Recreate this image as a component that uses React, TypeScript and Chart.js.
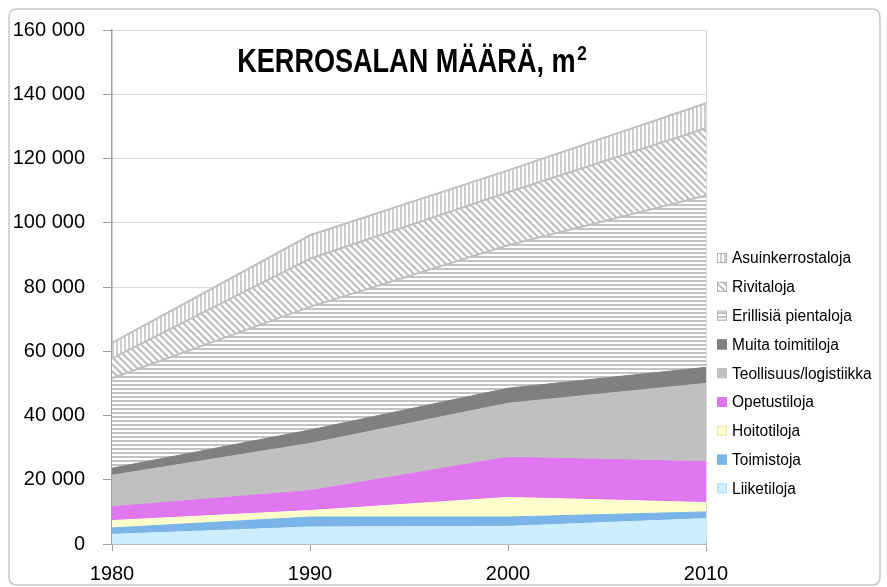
import React, { useEffect, useRef } from "react";
import { Chart, registerables } from "chart.js";

Chart.register(...registerables);

// ---- data ----
const years = ["1980", "1990", "2000", "2010"];
const liiketiloja = [3000, 5300, 5500, 7900];
const toimistoja = [2000, 3100, 2900, 2100];
const hoitotiloja = [2300, 2000, 6100, 2900];
const opetustiloja = [4300, 6200, 12500, 12700];
const teollisuus = [9800, 14700, 16800, 24400];
const muitaToimitiloja = [2200, 4200, 4700, 5000];
const erillisiaPientaloja = [28000, 38300, 44500, 53500];
const rivitaloja = [6200, 15000, 16500, 20900];
const asuinkerrostaloja = [4800, 7300, 6800, 7800];
const yMin = 0;
const yMax = 160000;
const yStep = 20000;
const titleMain = "KERROSALAN MÄÄRÄ, m";
const titleSup = "2";

function makePattern(kind: string): CanvasPattern | string {
  const c = document.createElement("canvas");
  const size = kind === "d" ? 7 : 4;
  c.width = size;
  c.height = size;
  const g = c.getContext("2d");
  if (!g) return "#ccc";
  g.fillStyle = "#ffffff";
  g.fillRect(0, 0, size, size);
  if (kind === "h") {
    g.fillStyle = "#c3c3c3";
    g.fillRect(0, 0, size, 2);
  } else if (kind === "v") {
    g.fillStyle = "#cfcfcf";
    g.fillRect(0, 0, 2, size);
  } else {
    g.strokeStyle = "#bdbdbd";
    g.lineWidth = 2;
    for (const o of [-size, 0, size]) {
      g.beginPath();
      g.moveTo(o - 1, -1);
      g.lineTo(o + size + 1, size + 1);
      g.stroke();
    }
  }
  return g.createPattern(c, "repeat") || "#ccc";
}

const FONT = "'Liberation Sans', Arial, sans-serif";

export default function App() {
  const ref = useRef<HTMLCanvasElement | null>(null);

  useEffect(() => {
    if (!ref.current) return;
    const pH = makePattern("h");
    const pV = makePattern("v");
    const pD = makePattern("d");

    const series = [
      { label: "Liiketiloja", data: liiketiloja, bg: "#cceeff", border: "#cceeff", legendBorder: "#b8dcef" },
      { label: "Toimistoja", data: toimistoja, bg: "#7ab4e8", border: "#7ab4e8", legendBorder: "#7ab4e8" },
      { label: "Hoitotiloja", data: hoitotiloja, bg: "#ffffcc", border: "#ffffcc", legendBorder: "#e6e6b0" },
      { label: "Opetustiloja", data: opetustiloja, bg: "#e076f0", border: "#e076f0", legendBorder: "#e076f0" },
      { label: "Teollisuus/logistiikka", data: teollisuus, bg: "#c0c0c0", border: "#c0c0c0", legendBorder: "#c0c0c0" },
      { label: "Muita toimitiloja", data: muitaToimitiloja, bg: "#808080", border: "#808080", legendBorder: "#808080" },
      { label: "Erillisiä pientaloja", data: erillisiaPientaloja, bg: pH, border: "#c0c0c0", legendBorder: "#b0b0b0", bw: 2 },
      { label: "Rivitaloja", data: rivitaloja, bg: pD, border: "#c0c0c0", legendBorder: "#b0b0b0", bw: 2 },
      { label: "Asuinkerrostaloja", data: asuinkerrostaloja, bg: pV, border: "#c0c0c0", legendBorder: "#b0b0b0", bw: 2 },
    ];

    const decor = {
      id: "decor",
      beforeDraw(chart: any) {
        const c = chart.ctx;
        c.save();
        c.fillStyle = "#ffffff";
        c.fillRect(0, 0, chart.width, chart.height);
        // outer frame
        c.strokeStyle = "#c8c8c8";
        c.lineWidth = 1.5;
        const x0 = 9, y0 = 9, x1 = 880, y1 = 585, r = 8;
        c.beginPath();
        c.moveTo(x0 + r, y0);
        c.lineTo(x1 - r, y0);
        c.quadraticCurveTo(x1, y0, x1, y0 + r);
        c.lineTo(x1, y1 - r);
        c.quadraticCurveTo(x1, y1, x1 - r, y1);
        c.lineTo(x0 + r, y1);
        c.quadraticCurveTo(x0, y1, x0, y1 - r);
        c.lineTo(x0, y0 + r);
        c.quadraticCurveTo(x0, y0, x0 + r, y0);
        c.stroke();
        c.restore();
      },
      afterDraw(chart: any) {
        const c = chart.ctx;
        const area = chart.chartArea;
        c.save();
        // title (narrowed bold to mimic Arial Narrow)
        const k = 0.82;
        c.fillStyle = "#000";
        c.textBaseline = "alphabetic";
        const mainFont = `bold 33px ${FONT}`;
        const supFont = `bold 21px ${FONT}`;
        c.font = mainFont;
        const w1 = c.measureText(titleMain).width;
        c.font = supFont;
        const w2 = c.measureText(titleSup).width;
        const cx = (area.left + area.right) / 2 + 3;
        const total = (w1 + w2 + 2) * k;
        const sx = cx - total / 2;
        const baseY = 72;
        c.save();
        c.translate(sx, baseY);
        c.scale(k, 1);
        c.font = mainFont;
        c.textAlign = "left";
        c.fillText(titleMain, 0, 0);
        c.font = supFont;
        c.fillText(titleSup, w1 + 2, -12);
        c.restore();

        // legend (reverse order)
        const items = [...series].reverse();
        c.font = `16px ${FONT}`;
        c.textBaseline = "middle";
        c.textAlign = "left";
        items.forEach((it, i) => {
          const y = 258 + i * 28.8;
          c.fillStyle = it.bg as any;
          c.fillRect(717, y - 5, 10, 10);
          c.strokeStyle = it.legendBorder;
          c.lineWidth = 1;
          c.strokeRect(717.5, y - 4.5, 9, 9);
          c.fillStyle = "#000";
          c.save();
          c.translate(732, y + 1);
          c.scale(0.97, 1);
          c.fillText(it.label, 0, 0);
          c.restore();
        });
        c.restore();
      },
    };

    const chart = new Chart(ref.current, {
      type: "line",
      data: {
        labels: years,
        datasets: series.map((s, i) => ({
          label: s.label,
          data: s.data,
          backgroundColor: s.bg as any,
          borderColor: s.border,
          borderWidth: (s as any).bw || 1,
          fill: i === 0 ? "origin" : "-1",
          pointRadius: 0,
          tension: 0,
        })),
      },
      options: {
        responsive: false,
        animation: false,
        layout: { padding: { top: 29, right: 181, left: 0, bottom: 0 } },
        plugins: {
          legend: { display: false },
          title: { display: false },
          tooltip: { enabled: false },
        },
        scales: {
          x: {
            offset: false,
            grid: {
              color: (ctx: any) => (ctx.index === years.length - 1 ? "#d9d9d9" : "rgba(0,0,0,0)"),
              tickColor: "#a0a0a0",
              tickLength: 7,
              lineWidth: 1,
            },
            border: { color: "#a0a0a0", width: 1.5 },
            ticks: {
              color: "#000",
              font: { family: FONT, size: 20 },
              padding: 11,
              maxRotation: 0,
            },
            afterFit: (s: any) => {
              s.height = 43;
            },
          },
          y: {
            stacked: true,
            min: yMin,
            max: yMax,
            grid: {
              color: "#d9d9d9",
              tickColor: "#a0a0a0",
              tickLength: 9,
            },
            border: { color: "#a0a0a0", width: 1.5 },
            ticks: {
              stepSize: yStep,
              color: "#000",
              font: { family: FONT, size: 20 },
              padding: 18,
              callback: (v: any) => {
                const n = Number(v);
                return n.toString().replace(/\B(?=(\d{3})+(?!\d))/g, " ");
              },
            },
            afterFit: (s: any) => {
              s.width = 112;
            },
          },
        },
      },
      plugins: [decor],
    });
    return () => chart.destroy();
  }, []);

  return (
    <div style={{ position: "fixed", left: 0, top: 0, width: 887, height: 587, background: "#fff" }}>
      <canvas ref={ref} width={887} height={587} />
    </div>
  );
}
